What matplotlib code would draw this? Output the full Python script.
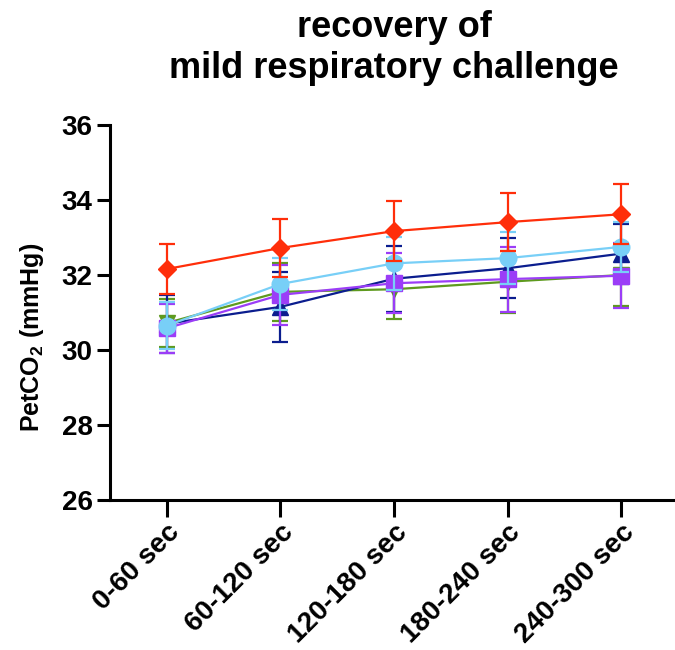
import matplotlib

matplotlib.use("Agg")

import matplotlib.pyplot as plt

plt.rcParams["font.family"] = ["Liberation Sans", "DejaVu Sans"]
plt.rcParams["font.weight"] = "bold"
plt.rcParams["mathtext.fontset"] = "custom"
plt.rcParams["mathtext.rm"] = "Liberation Sans:bold"
plt.rcParams["mathtext.bf"] = "Liberation Sans:bold"
plt.rcParams["mathtext.it"] = "Liberation Sans:bold"

categories = ["0-60 sec", "60-120 sec", "120-180 sec", "180-240 sec", "240-300 sec"]

green_mean = [30.72, 31.55, 31.62, 31.82, 32.00]
green_sd = [0.64, 0.77, 0.80, 0.83, 0.83]
navy_mean = [30.70, 31.15, 31.90, 32.18, 32.57]
navy_sd = [0.77, 0.93, 0.88, 0.80, 0.80]
purple_mean = [30.58, 31.47, 31.78, 31.89, 31.98]
purple_sd = [0.65, 0.80, 0.80, 0.87, 0.86]
blue_mean = [30.65, 31.76, 32.31, 32.45, 32.75]
blue_sd = [0.62, 0.68, 0.70, 0.69, 0.67]
red_mean = [32.16, 32.72, 33.17, 33.41, 33.62]
red_sd = [0.67, 0.77, 0.80, 0.78, 0.80]

GREEN = "#5E9A1E"
NAVY = "#0B1D8E"
PURPLE = "#9B3DF7"
LBLUE = "#78CFF7"
RED = "#FF2E0A"

series = [
    (green_mean, green_sd, GREEN, "v", 11),
    (navy_mean, navy_sd, NAVY, "^", 11),
    (purple_mean, purple_sd, PURPLE, "s", 11),
    (blue_mean, blue_sd, LBLUE, "o", 12),
    (red_mean, red_sd, RED, "D", 9),
]

fig = plt.figure(figsize=(6.75, 6.5), dpi=100)
ax = fig.add_axes([110 / 675, 150 / 650, 568 / 675, 375 / 650])

xs = list(range(len(categories)))
for i, (m, sd, c, mk, ms) in enumerate(series):
    ax.errorbar(xs, m, yerr=sd, color=c, marker=mk, markersize=ms,
                linewidth=1.6, elinewidth=1.6, capsize=6, capthick=1.6,
                zorder=3 + i)

ax.set_xlim(-0.5, 4.5)
ax.set_ylim(26, 36)
ax.set_yticks([26, 28, 30, 32, 34, 36])
ax.set_xticks(xs)
ax.set_xticklabels(categories, rotation=45, ha="right",
                   rotation_mode="anchor", fontsize=20, fontweight="bold")
ax.tick_params(axis="y", labelsize=20, width=2.2, length=9.5, pad=3)
ax.tick_params(axis="x", width=2.2, length=12, pad=2)
for lab in ax.get_yticklabels():
    lab.set_fontweight("bold")

for spine in ("top", "right"):
    ax.spines[spine].set_visible(False)
for spine in ("bottom", "left"):
    ax.spines[spine].set_linewidth(2.2)

ax.set_ylabel(r"PetCO$_2$ (mmHg)", fontsize=18, fontweight="bold")
ax.yaxis.set_label_coords(-0.113, 0.435)
fig.text(394 / 675, 1 - 48 / 650, "recovery of\nmild respiratory challenge",
         ha="center", va="center", fontsize=26, fontweight="bold",
         linespacing=1.2)

fig.savefig("out.png", dpi=100, facecolor="white")
